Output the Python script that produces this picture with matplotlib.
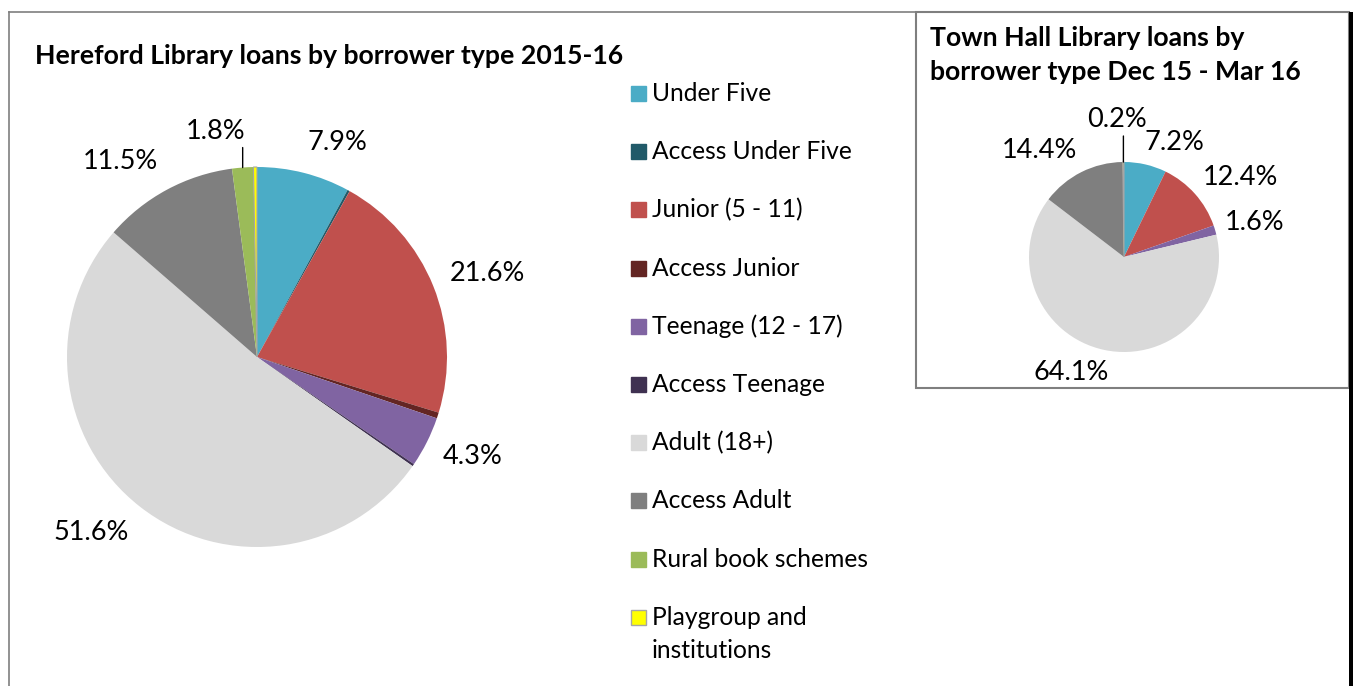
import textwrap

import matplotlib
matplotlib.use("Agg")
import matplotlib.pyplot as plt
import numpy as np
from matplotlib.lines import Line2D
from matplotlib.patches import Rectangle

# --- data ---
categories = [
    "Under Five", "Access Under Five", "Junior (5 - 11)", "Access Junior",
    "Teenage (12 - 17)", "Access Teenage", "Adult (18+)", "Access Adult",
    "Rural book schemes", "Playgroup and institutions",
]
hereford_pct = [7.9, 0.2, 21.6, 0.5, 4.3, 0.2, 51.6, 11.5, 1.8, 0.3]
town_hall_pct = [7.2, 0.0, 12.4, 0.0, 1.6, 0.0, 64.1, 14.4, 0.0, 0.2]
# slices too thin to carry a label of their own
hereford_hidden = [1, 3, 5, 9]
hereford_title = "Hereford Library loans by borrower type 2015-16"
town_hall_title = "Town Hall Library loans by\nborrower type Dec 15 - Mar 16"

colors = ["#4bacc6", "#215a69", "#c0504d", "#632523", "#8064a2",
          "#3f3151", "#d9d9d9", "#7f7f7f", "#9bbb59", "#ffff00"]

W, H = 1353, 686
plt.rcParams["font.family"] = ["Lato", "DejaVu Sans"]
fig = plt.figure(figsize=(W / 100, H / 100), dpi=100)
renderer = fig.canvas.get_renderer()


def fx(x):
    return x / W


def fy(y):
    return 1 - y / H


def text_lines(x, y, s, pitch, **kw):
    # one fig.text per line so every baseline sits where it should
    for k, line in enumerate(s.split("\n")):
        fig.text(fx(x), fy(y + k * pitch), line, va="baseline", **kw)


def pie_axes(cx, cy, r):
    return fig.add_axes([fx(cx - r), fy(cy + r), 2 * r / W, 2 * r / H])


def draw_pie(ax, values):
    wedges, _ = ax.pie(values, colors=colors, startangle=90, counterclock=False,
                       radius=1, wedgeprops=dict(linewidth=0))
    wedges[9].set_edgecolor("#a6a6a6")
    wedges[9].set_linewidth(0.8)
    # pie() pads the limits to 1.25, keep the circle filling the axes
    ax.set_xlim(-1, 1)
    ax.set_ylim(-1, 1)
    ax.set_aspect("equal")
    ax.axis("off")
    return wedges


def outside_labels(ax, wedges, values, gap, size, skip=(), leader=None):
    """Excel-like 'outside end' labels; leader = (index, length_px, frac_x)."""
    for i, (w, v) in enumerate(zip(wedges, values)):
        if v == 0 or i in skip:
            continue
        theta = np.deg2rad((w.theta1 + w.theta2) / 2)
        dx, dy = np.cos(theta), np.sin(theta)
        txt = f"{v:.1f}%"
        t = ax.annotate(txt, xy=(dx, dy), xytext=(0, 0), textcoords="offset pixels",
                        ha="left", va="bottom", fontsize=size)
        bb = t.get_window_extent(renderer)
        if leader is not None and i == leader[0]:
            _, length, fracx = leader
            ax.annotate("", xy=(dx, dy), xytext=(0, length), textcoords="offset pixels",
                        arrowprops=dict(arrowstyle="-", color="black", lw=1,
                                        shrinkA=0, shrinkB=0))
            t.set_position((-fracx * bb.width, length + 4))
            continue
        ax_frac = np.clip(0.5 - 2.0 * dx, 0, 1)
        ay_frac = np.clip(0.5 - 0.6 * dy, 0, 1)
        t.set_position((dx * gap - ax_frac * bb.width, dy * gap - ay_frac * bb.height))


# --- main pie ---
ax_main = pie_axes(257, 357, 190)
w_main = draw_pie(ax_main, hereford_pct)
outside_labels(ax_main, w_main, hereford_pct, gap=18, size=19.5,
               skip=hereford_hidden, leader=(8, 20, 0.95))

# --- town hall pie ---
ax_th = pie_axes(1124, 257, 95)
w_th = draw_pie(ax_th, town_hall_pct)
outside_labels(ax_th, w_th, town_hall_pct, gap=10, size=19.5, leader=(9, 26, 0.6))

# --- titles ---
text_lines(35, 64, hereford_title, 34, fontsize=19.2, fontweight="bold")
text_lines(930, 46, town_hall_title, 34, fontsize=19.2, fontweight="bold")

# --- legend ---
for i, (name, col) in enumerate(zip(categories, colors)):
    base = 101 + 58.2 * i
    edge = "#a6a6a6" if col == "#ffff00" else col
    fig.add_artist(Rectangle((fx(631), fy(base)), 15 / W, 15 / H, transform=fig.transFigure,
                             facecolor=col, edgecolor=edge, linewidth=1))
    text_lines(652, base, textwrap.fill(name, 20), 33, fontsize=17.7)

# --- frames ---
grey = "#7f7f7f"
fig.add_artist(Line2D([fx(8.5), fx(8.5)], [fy(12), fy(686)], transform=fig.transFigure,
                      color=grey, lw=1.2))
fig.add_artist(Line2D([fx(8.5), fx(916)], [fy(12), fy(12)], transform=fig.transFigure,
                      color=grey, lw=1.2))
fig.add_artist(Rectangle((fx(916), fy(388)), (1349 - 916) / W, (388 - 12) / H,
                         transform=fig.transFigure, fill=False, edgecolor=grey, lw=1.5))
fig.add_artist(Rectangle((fx(1349), 0), 4 / W, fy(12), transform=fig.transFigure,
                         facecolor="black", edgecolor="none"))

fig.savefig("out.png", dpi=100, facecolor="white")
